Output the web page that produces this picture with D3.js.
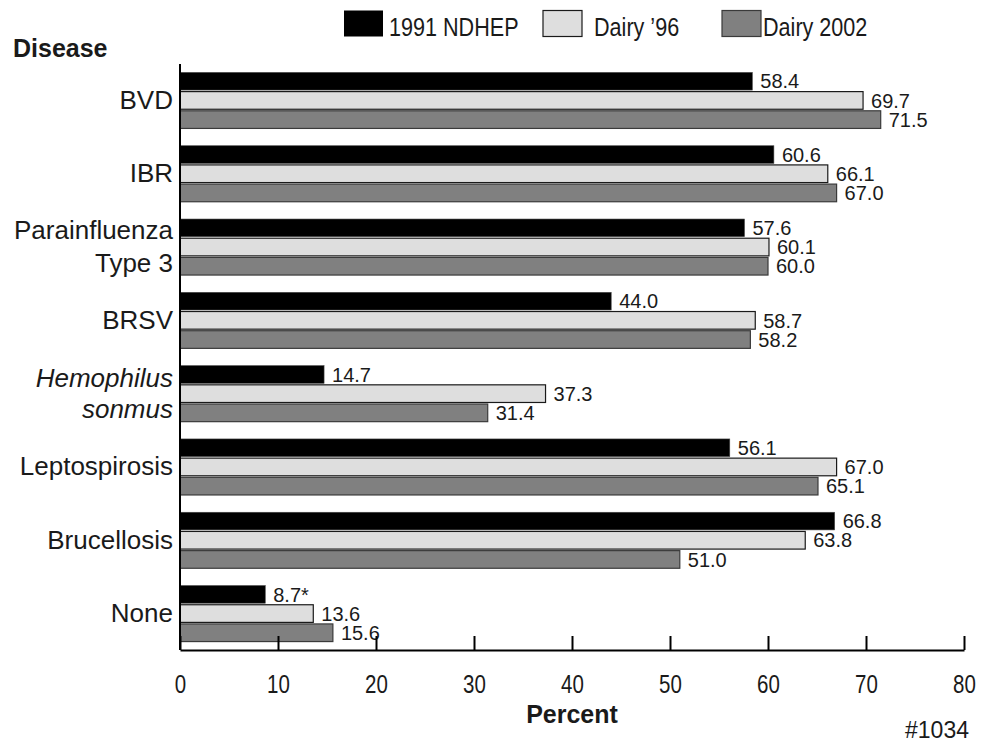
<!DOCTYPE html>
<html>
<head>
<meta charset="utf-8">
<script src="https://cdn.jsdelivr.net/npm/d3@7"></script>
<style>
  body { margin: 0; background: #fff; }
  svg text { font-family: "Liberation Sans", Arial, sans-serif; fill: #1a1a1a; }
</style>
</head>
<body>
<svg id="chart" width="990" height="742"></svg>
<script>
// data
var diseases = ["BVD", "IBR", "Parainfluenza|Type 3", "BRSV", "Hemophilus|sonmus", "Leptospirosis", "Brucellosis", "None"];
var series = ["1991 NDHEP", "Dairy \u201996", "Dairy 2002"];
var ndhep91 = [58.4, 60.6, 57.6, 44.0, 14.7, 56.1, 66.8, 8.7];
var dairy96 = [69.7, 66.1, 60.1, 58.7, 37.3, 67.0, 63.8, 13.6];
var dairy02 = [71.5, 67.0, 60.0, 58.2, 31.4, 65.1, 51.0, 15.6];
var notes91 = ["", "", "", "", "", "", "", "*"];
var xTicks = [0, 10, 20, 30, 40, 50, 60, 70, 80];

var fills = ["#000000", "#dedede", "#808080"],
    strokes = ["#444444", "#1a1a1a", "#3a3a3a"];

var svg = d3.select("#chart");

var x = d3.scaleLinear().domain([0, 80]).range([180, 964]);

var y0 = d3.scaleBand()
  .domain(diseases)
  .range([64, 650])
  .paddingInner(0.236)
  .paddingOuter(0.115);

var y1 = d3.scaleBand()
  .domain(series)
  .range([0, y0.bandwidth()])
  .paddingInner(0.08);

// squeeze a text horizontally, the original uses a narrow face
function condense(sel, k) {
  sel.each(function() {
    var w = this.getComputedTextLength();
    d3.select(this).attr("textLength", w * k).attr("lengthAdjust", "spacingAndGlyphs");
  });
}

var rows = diseases.map((d, i) => ({
  name: d,
  vals: [ndhep91[i], dairy96[i], dairy02[i]],
  note: notes91[i]
}));

var groups = svg.selectAll(".grp")
    .data(rows)
  .enter().append("g")
    .attr("class", "grp")
    .attr("transform", d => "translate(0," + y0(d.name) + ")");

groups.selectAll("rect")
    .data(d => d.vals.map((v, j) => ({ s: series[j], v: v, j: j })))
  .enter().append("rect")
    .attr("x", x(0))
    .attr("y", d => y1(d.s))
    .attr("width", d => x(d.v) - x(0))
    .attr("height", y1.bandwidth())
    .attr("fill", d => fills[d.j])
    .attr("stroke", d => strokes[d.j])
    .attr("stroke-width", d => d.j === 0 ? 0.6 : 1.2);

groups.selectAll(".val")
    .data(d => d.vals.map((v, j) => ({ s: series[j], v: v, j: j, note: j === 0 ? d.note : "" })))
  .enter().append("text")
    .attr("class", "val")
    .attr("x", d => x(d.v) + 8)
    .attr("y", d => y1(d.s) + y1.bandwidth() / 2)
    .attr("dy", "0.36em")
    .style("font-size", "20px")
    .text(d => d.v.toFixed(1) + d.note);

// category labels (right aligned, two-line ones split on |)
var labels = svg.selectAll(".cat")
    .data(diseases)
  .enter().append("text")
    .attr("class", "cat")
    .attr("text-anchor", "end")
    .style("font-size", "26px")
    .style("font-style", d => d.indexOf("Hemophilus") === 0 ? "italic" : null)
    .attr("transform", d => "translate(173," + (y0(d) + y0.bandwidth() / 2) + ")");

labels.each(function(d) {
  var lines = d.split("|"),
      gap = d.indexOf("Hemophilus") === 0 ? 31 : 33;
  d3.select(this).selectAll("tspan")
      .data(lines)
    .enter().append("tspan")
      .attr("x", 0)
      .attr("y", (l, k) => (k - (lines.length - 1) / 2) * gap - 1)
      .attr("dy", "0.36em")
      .text(l => l);
});

// axes
svg.append("line")
  .attr("x1", x(0)).attr("x2", x(0))
  .attr("y1", 64).attr("y2", 650)
  .attr("stroke", "#000").attr("stroke-width", 2);

var xAxis = svg.append("g")
  .attr("transform", "translate(0,650)")
  .attr("font-family", null)
  .attr("font-size", null)
  .call(d3.axisBottom(x).tickValues(xTicks).tickSizeInner(-14).tickSizeOuter(0).tickPadding(25));

xAxis.select(".domain").attr("stroke", "#000").attr("stroke-width", 2.2);
xAxis.selectAll(".tick line").attr("stroke", "#000").attr("stroke-width", 2);
xAxis.selectAll(".tick text")
  .style("font-size", "25px")
  .style("font-family", "'Liberation Sans', Arial, sans-serif")
  .attr("fill", "#1a1a1a")
  .call(condense, 0.82);

svg.append("text")
  .attr("x", (x(0) + x(80)) / 2)
  .attr("y", 723)
  .attr("text-anchor", "middle")
  .style("font-size", "25px")
  .style("font-weight", "bold")
  .text("Percent");

svg.append("text")
  .attr("x", 13)
  .attr("y", 57)
  .style("font-size", "25px")
  .style("font-weight", "bold")
  .text("Disease");

svg.append("text")
  .attr("x", 969)
  .attr("y", 738)
  .attr("text-anchor", "end")
  .style("font-size", "23px")
  .text("#1034");

// legend
var legendX = [344, 543, 722],
    textX = [389, 594, 763];

var legend = svg.selectAll(".leg")
    .data(series)
  .enter().append("g")
    .attr("class", "leg");

legend.append("rect")
  .attr("x", (d, i) => legendX[i])
  .attr("y", 10.5)
  .attr("width", 39)
  .attr("height", 26)
  .attr("fill", (d, i) => fills[i])
  .attr("stroke", (d, i) => i === 0 ? "none" : strokes[i])
  .attr("stroke-width", 1.2);

legend.append("text")
  .attr("x", (d, i) => textX[i])
  .attr("y", 35.5)
  .style("font-size", "26px")
  .text(d => d)
  .call(condense, 0.83);
</script>
</body>
</html>
